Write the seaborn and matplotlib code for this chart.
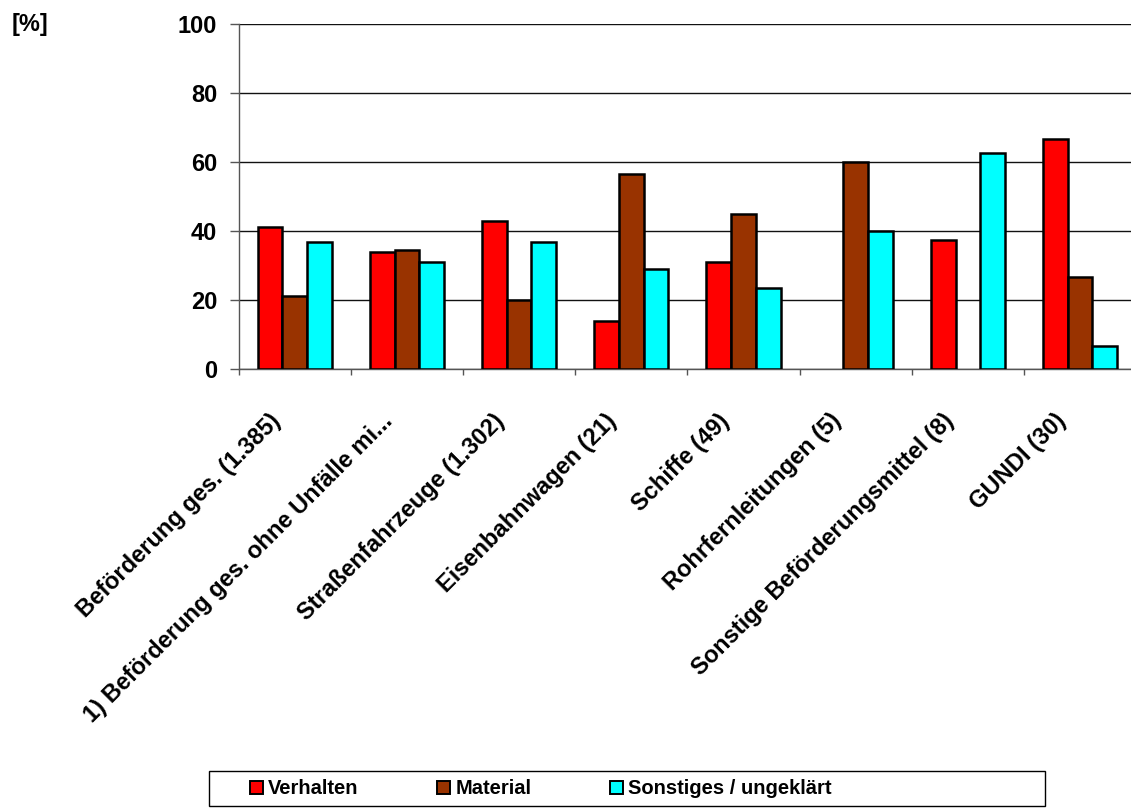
import numpy as np
import pandas as pd
import matplotlib
matplotlib.use("Agg")
import matplotlib.pyplot as plt
import matplotlib.transforms as mtransforms
from matplotlib.patches import Rectangle, Patch
import seaborn as sns

# Accident causes by means of transport, share in percent
categories = [
    "Beförderung ges. (1.385)",
    "1) Beförderung ges. ohne Unfälle mi...",
    "Straßenfahrzeuge (1.302)",
    "Eisenbahnwagen (21)",
    "Schiffe (49)",
    "Rohrfernleitungen (5)",
    "Sonstige Beförderungsmittel (8)",
    "GUNDI (30)",
]
verhalten = [41.1, 33.9, 43.0, 13.9, 30.9, np.nan, 37.5, 66.7]
material = [21.2, 34.6, 20.0, 56.4, 44.9, 60.0, np.nan, 26.7]
sonstiges = [36.9, 30.9, 36.9, 29.1, 23.6, 40.0, 62.5, 6.7]
series_names = ["Verhalten", "Material", "Sonstiges / ungeklärt"]
series_colors = ["#FF0000", "#993300", "#00FFFF"]
y_ticks = [0, 20, 40, 60, 80, 100]

df = pd.DataFrame({
    "Kategorie": categories * 3,
    "Ursache": sum([[s] * len(categories) for s in series_names], []),
    "Anteil": verhalten + material + sonstiges,
})

sns.set_theme(style="white")
plt.rcParams["font.family"] = ["Liberation Sans", "DejaVu Sans"]
plt.rcParams["font.weight"] = "bold"
plt.rcParams["text.color"] = "black"
plt.rcParams["xtick.labelcolor"] = "black"
plt.rcParams["ytick.labelcolor"] = "black"

W, H = 1131, 809
fig = plt.figure(figsize=(W / 100, H / 100), dpi=100)
ax = fig.add_axes([238.6 / W, 1 - 369 / H, 897.6 / W, 345 / H])

sns.barplot(
    data=df, x="Kategorie", y="Anteil", hue="Ursache",
    order=categories, hue_order=series_names, palette=series_colors,
    width=0.66, errorbar=None, edgecolor="black", linewidth=1.8,
    saturation=1, legend=False, ax=ax, zorder=3,
)

ax.set_xlim(-0.5, len(categories) - 0.5)
ax.set_ylim(0, 100)
ax.set_yticks(y_ticks)
ax.set_yticklabels([str(t) for t in y_ticks], fontsize=17, fontweight="bold",
                   color="black")
ax.yaxis.grid(True, color="#111111", linewidth=1.0, zorder=0)
ax.xaxis.grid(False)
ax.set_axisbelow(True)
ax.set_xlabel("")
ax.set_ylabel("")

for side in ["top", "right"]:
    ax.spines[side].set_visible(False)
for side in ["left", "bottom"]:
    ax.spines[side].set_color("#555555")
    ax.spines[side].set_linewidth(1.0)

ax.tick_params(axis="y", which="major", direction="out", length=6.5,
               width=1.0, color="#555555", pad=9, left=True)

# Category labels in the middle, tick marks on the boundaries
ax.set_xticks(range(len(categories)))
ax.set_xticklabels(categories, rotation=45, ha="right", va="top",
                   rotation_mode="anchor", fontsize=17, fontweight="bold",
                   color="black")
ax.tick_params(axis="x", which="major", length=0, pad=29)
ax.set_xticks(np.arange(-0.5, len(categories), 1.0), minor=True)
ax.tick_params(axis="x", which="minor", direction="out", length=4,
               width=1.0, color="#555555", bottom=True)

shift = mtransforms.ScaledTranslation(-26 / 100, 0, fig.dpi_scale_trans)
for lab in ax.get_xticklabels():
    lab.set_transform(lab.get_transform() + shift)

fig.text(12 / W, 1 - 24 / H, "[%]", fontsize=17, fontweight="bold",
         ha="left", va="center")

# Legend box along the bottom
fig.patches.append(Rectangle((209 / W, 1 - 806 / H), (1045 - 209) / W, 35 / H,
                             transform=fig.transFigure, facecolor="white",
                             edgecolor="black", linewidth=1.0))
handles = [Patch(facecolor=c, edgecolor="black", linewidth=1.4) for c in series_colors]
fig.legend(handles, series_names, loc="center left",
           bbox_to_anchor=(250 / W, 1 - 789 / H), ncol=3, frameon=False,
           prop={"size": 14.5, "weight": "bold"}, handlelength=0.65,
           handleheight=0.65, handletextpad=0.25, columnspacing=3.9,
           borderpad=0, borderaxespad=0)

fig.savefig("out.png", dpi=100)
